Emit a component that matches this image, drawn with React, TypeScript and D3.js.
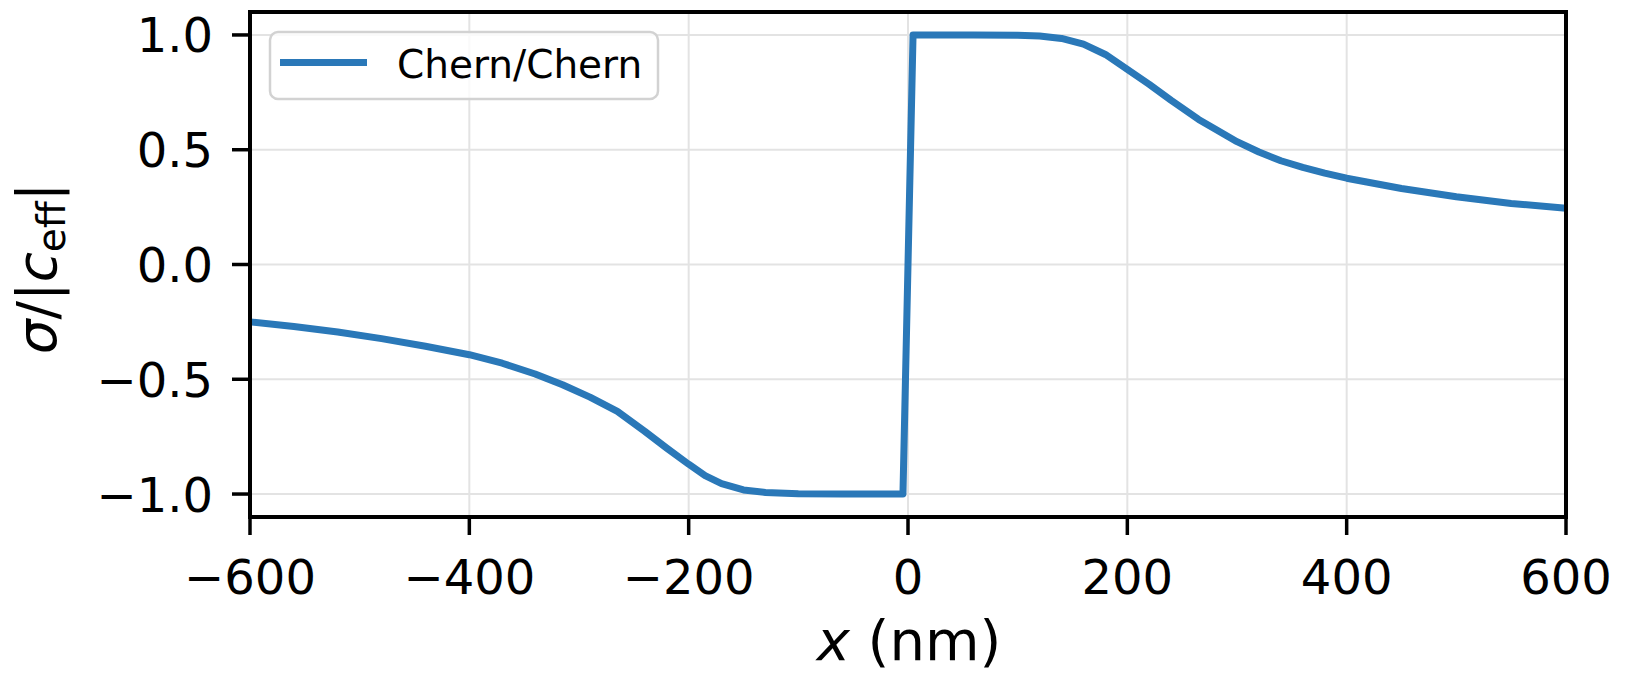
import React from "react";
import * as d3 from "d3";

// Normalised conductivity profile across the Chern/Chern interface
const xNm = [
  -600, -560, -520, -480, -440, -400, -370, -340, -315, -290, -265, -240, -220,
  -200, -185, -170, -150, -130, -100, -60, -4.6,
  4.6, 60, 100, 120, 140, 160, 180, 200, 220, 240, 265, 280, 300, 320, 340,
  360, 380, 400, 450, 500, 550, 600,
];
const sigmaNorm = [
  -0.25, -0.27, -0.294, -0.323, -0.356, -0.393, -0.43, -0.477, -0.524, -0.578,
  -0.64, -0.727, -0.8, -0.87, -0.92, -0.955, -0.982, -0.993, -0.999, -1.0, -1.0,
  1.0, 1.0, 0.999, 0.995, 0.985, 0.96, 0.915, 0.85, 0.785, 0.715, 0.632, 0.59,
  0.535, 0.49, 0.452, 0.423, 0.398, 0.376, 0.331, 0.295, 0.266, 0.245,
];

const xTicks = [-600, -400, -200, 0, 200, 400, 600];
const xTickLabels = ["−600", "−400", "−200", "0", "200", "400", "600"];
const yTicks = [-1, -0.5, 0, 0.5, 1];
const yTickLabels = ["−1.0", "−0.5", "0.0", "0.5", "1.0"];
const seriesName = "Chern/Chern";

const W = 1626;
const H = 673;
const left = 250;
const right = 1566;
const top = 12;
const bottom = 517;

const FONT = "'DejaVu Sans', sans-serif";
const BLUE = "#2a78b8";

export default function App() {
  const x = d3.scaleLinear().domain([-600, 600]).range([left, right]);
  const y = d3.scaleLinear().domain([-1.1, 1.1]).range([bottom, top]);

  const line = d3
    .line<number>()
    .x((_, i) => x(xNm[i]))
    .y((d) => y(d));

  const tickLen = 18;

  return (
    <svg
      width={W}
      height={H}
      style={{ position: "absolute", left: 0, top: 0, background: "#fff" }}
      fontFamily={FONT}
    >
      <rect x={0} y={0} width={W} height={H} fill="#fff" />

      {/* grid */}
      <g stroke="#e3e3e3" strokeWidth={2}>
        {xTicks.map((t) => (
          <line key={"gx" + t} x1={x(t)} x2={x(t)} y1={top} y2={bottom} />
        ))}
        {yTicks.map((t) => (
          <line key={"gy" + t} x1={left} x2={right} y1={y(t)} y2={y(t)} />
        ))}
      </g>

      {/* data */}
      <path
        d={line(sigmaNorm) ?? ""}
        fill="none"
        stroke={BLUE}
        strokeWidth={7}
        strokeLinejoin="round"
        strokeLinecap="butt"
      />

      {/* legend */}
      <g>
        <rect
          x={270}
          y={32}
          width={388}
          height={67}
          rx={8}
          ry={8}
          fill="#fff"
          fillOpacity={0.8}
          stroke="#d2d2d2"
          strokeWidth={2.5}
        />
        <line x1={280} x2={367} y1={62.5} y2={62.5} stroke={BLUE} strokeWidth={7} />
        <text x={397} y={77.5} fontSize={39} fill="#000">
          {seriesName}
        </text>
      </g>

      {/* spines */}
      <rect
        x={left}
        y={top}
        width={right - left}
        height={bottom - top}
        fill="none"
        stroke="#000"
        strokeWidth={4}
      />

      {/* x axis ticks */}
      <g>
        {xTicks.map((t, i) => (
          <g key={"xt" + t}>
            <line
              x1={x(t)}
              x2={x(t)}
              y1={bottom}
              y2={bottom + tickLen}
              stroke="#000"
              strokeWidth={3.5}
            />
            <text
              x={x(t)}
              y={594}
              fontSize={48}
              textAnchor="middle"
              fill="#000"
            >
              {xTickLabels[i]}
            </text>
          </g>
        ))}
      </g>

      {/* y axis ticks */}
      <g>
        {yTicks.map((t, i) => (
          <g key={"yt" + t}>
            <line
              x1={left - tickLen}
              x2={left}
              y1={y(t)}
              y2={y(t)}
              stroke="#000"
              strokeWidth={3.5}
            />
            <text
              x={213}
              y={y(t) + 17.5}
              fontSize={48}
              textAnchor="end"
              fill="#000"
            >
              {yTickLabels[i]}
            </text>
          </g>
        ))}
      </g>

      {/* axis labels */}
      <text x={(left + right) / 2 + 1} y={660} fontSize={56} textAnchor="middle" fill="#000">
        <tspan fontStyle="italic">x</tspan>
        <tspan> (nm)</tspan>
      </text>

      <text
        transform={`translate(56,${(top + bottom) / 2 + 4}) rotate(-90)`}
        fontSize={55}
        textAnchor="middle"
        fill="#000"
      >
        <tspan fontStyle="italic">σ</tspan>
        <tspan>/|</tspan>
        <tspan fontStyle="italic">c</tspan>
        <tspan fontSize={39} dy={9}>
          eff
        </tspan>
        <tspan dy={-9}>|</tspan>
      </text>
    </svg>
  );
}
